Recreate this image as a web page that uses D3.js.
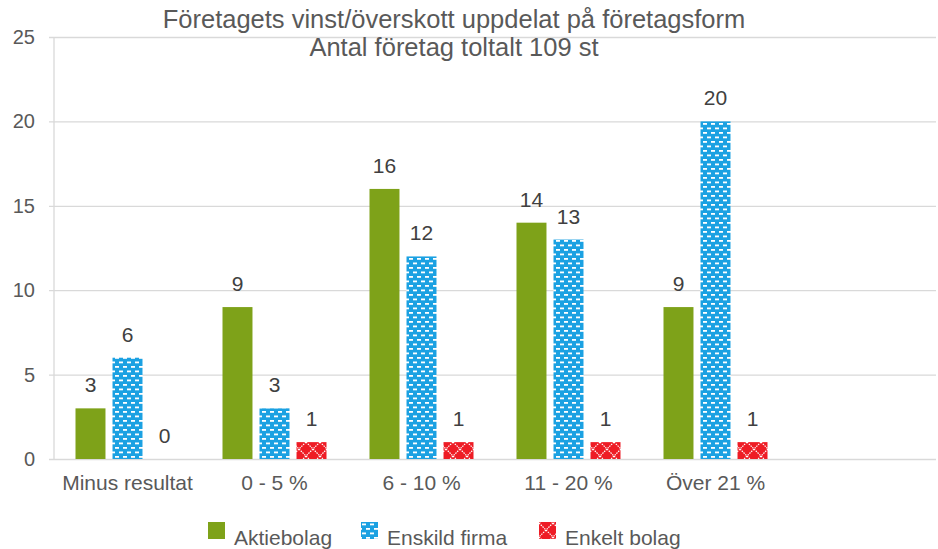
<!DOCTYPE html>
<html>
<head>
<meta charset="utf-8">
<script src="https://cdn.jsdelivr.net/npm/d3@7"></script>
<style>
  body { margin: 0; background: #fff; }
  text { font-family: "Liberation Sans", Arial, sans-serif; }
</style>
</head>
<body>
<svg width="938" height="549"></svg>
<script>
// data
var categories = ["Minus resultat", "0 - 5 %", "6 - 10 %", "11 - 20 %", "Över 21 %", ""];
var seriesNames = ["Aktiebolag", "Enskild firma", "Enkelt bolag"];
var aktiebolag = [3, 9, 16, 14, 9];
var enskildFirma = [6, 3, 12, 13, 20];
var enkeltBolag = [0, 1, 1, 1, 1];
var yTicks = [0, 5, 10, 15, 20, 25];
var titleLines = ["Företagets vinst/överskott uppdelat på företagsform", "Antal företag toltalt 109 st"];

var seriesValues = [aktiebolag, enskildFirma, enkeltBolag];

var svg = d3.select("svg");

// patterns for the bars
var defs = svg.append("defs");

var blue = defs.append("pattern")
    .attr("id", "pat-blue")
    .attr("patternUnits", "userSpaceOnUse")
    .attr("width", 8).attr("height", 9);
blue.append("rect").attr("width", 8).attr("height", 9).attr("fill", "#1ba1e2");
blue.append("rect").attr("x", 1).attr("y", 1.5).attr("width", 4).attr("height", 1.8).attr("fill", "#fff");
blue.append("rect").attr("x", 5).attr("y", 6).attr("width", 4).attr("height", 1.8).attr("fill", "#fff");
blue.append("rect").attr("x", -3).attr("y", 6).attr("width", 4).attr("height", 1.8).attr("fill", "#fff");

var red = defs.append("pattern")
    .attr("id", "pat-red")
    .attr("patternUnits", "userSpaceOnUse")
    .attr("width", 14).attr("height", 14)
    .attr("y", 1);
red.append("rect").attr("width", 14).attr("height", 14).attr("fill", "#ee1c25");
red.append("path")
    .attr("d", "M0,0L14,14M14,0L0,14")
    .attr("stroke", "#fff")
    .attr("stroke-width", 1.2)
    .attr("stroke-dasharray", "1.5,1");

var fills = ["#7ea219", "url(#pat-blue)", "url(#pat-red)"];

// scales
var x0 = d3.scaleBand().domain(categories).range([54, 936]);
var x1 = d3.scaleBand().domain(d3.range(seriesNames.length)).range([21.5, 125.5]).paddingInner(0.19);
var y = d3.scaleLinear().domain([0, 25]).range([459, 37]);

// grid + y axis
var yAxis = svg.append("g")
    .attr("transform", "translate(49,0)")
    .call(d3.axisLeft(y).tickValues(yTicks).tickSize(-887).tickPadding(14));
yAxis.select(".domain").remove();
yAxis.selectAll(".tick line").attr("stroke", "#d9d9d9").attr("stroke-width", 1.3);
yAxis.selectAll(".tick text")
    .attr("fill", "#595959")
    .style("font-size", "20px")
    .style("font-family", "'Liberation Sans', Arial, sans-serif");

svg.append("line")
    .attr("x1", 54).attr("x2", 54)
    .attr("y1", y(25)).attr("y2", y(0))
    .attr("stroke", "#d9d9d9").attr("stroke-width", 1.3);

// title
svg.append("text")
    .attr("x", 454)
    .attr("text-anchor", "middle")
    .attr("fill", "#595959")
    .style("font-size", "25.5px")
    .selectAll("tspan")
    .data(titleLines)
    .enter().append("tspan")
    .attr("x", 454)
    .attr("y", function (d, i) { return 28 + i * 28; })
    .text(function (d) { return d; });

// bars
var groups = svg.append("g").selectAll("g")
    .data(categories.slice(0, aktiebolag.length))
    .enter().append("g")
    .attr("transform", function (d) { return "translate(" + x0(d) + ",0)"; });

groups.selectAll("rect")
    .data(function (d, ci) { return seriesValues.map(function (s, si) { return { s: si, v: s[ci] }; }); })
    .enter().append("rect")
    .attr("x", function (d) { return x1(d.s); })
    .attr("y", function (d) { return y(d.v); })
    .attr("width", x1.bandwidth())
    .attr("height", function (d) { return y(0) - y(d.v); })
    .attr("fill", function (d) { return fills[d.s]; });

groups.selectAll("text")
    .data(function (d, ci) { return seriesValues.map(function (s, si) { return { s: si, v: s[ci] }; }); })
    .enter().append("text")
    .attr("x", function (d) { return x1(d.s) + x1.bandwidth() / 2; })
    .attr("y", function (d) { return y(d.v) - 16; })
    .attr("text-anchor", "middle")
    .attr("fill", "#404040")
    .style("font-size", "21px")
    .text(function (d) { return d.v; });

// x labels
svg.append("g").selectAll("text")
    .data(categories)
    .enter().append("text")
    .attr("x", function (d) { return x0(d) + x0.bandwidth() / 2; })
    .attr("y", 490)
    .attr("text-anchor", "middle")
    .attr("fill", "#595959")
    .style("font-size", "21px")
    .text(function (d) { return d; });

// legend
var legendX = [208, 361, 539];
var legend = svg.append("g").selectAll("g")
    .data(seriesNames)
    .enter().append("g")
    .attr("transform", function (d, i) { return "translate(" + legendX[i] + ",522)"; });
legend.append("rect")
    .attr("width", 17).attr("height", 17)
    .attr("fill", function (d, i) { return fills[i]; });
legend.append("text")
    .attr("x", 26).attr("y", 23)
    .attr("fill", "#595959")
    .style("font-size", "21px")
    .text(function (d) { return d; });
</script>
</body>
</html>
